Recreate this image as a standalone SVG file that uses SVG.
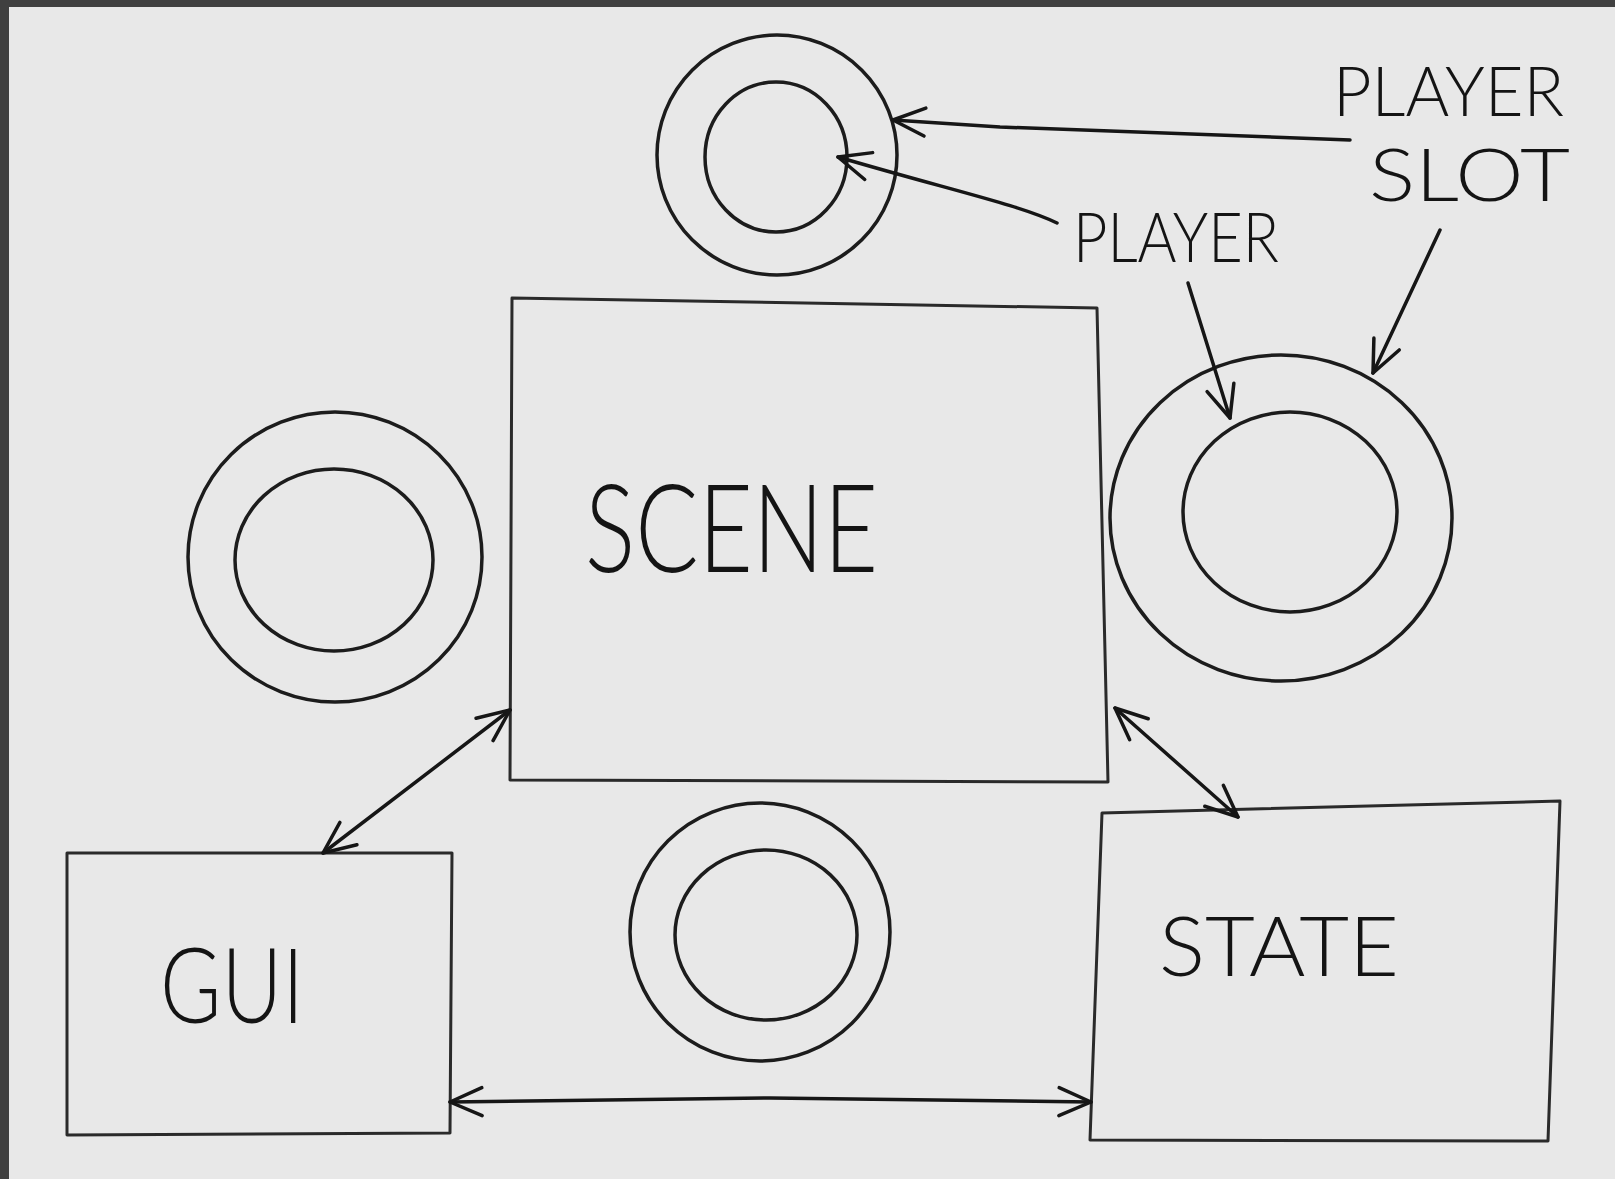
<svg xmlns="http://www.w3.org/2000/svg" width="1615" height="1179" viewBox="0 0 1615 1179">
<style>
.ink{fill:none;stroke:#1c1c1c;stroke-width:3.5;stroke-linecap:round;stroke-linejoin:round}
.box{fill:none;stroke:#2a2a2a;stroke-width:3;stroke-linejoin:round}
.lbl{font-family:"Lato","Liberation Sans",sans-serif;font-weight:300;fill:#141414}
.con{fill:none;stroke:#161616;stroke-width:3.5;stroke-linecap:round;stroke-linejoin:round}
</style>
<defs>
<marker id="ah" viewBox="-36 -18 40 36" markerWidth="40" markerHeight="36" refX="0" refY="0" markerUnits="userSpaceOnUse" orient="auto-start-reverse">
<path d="M-32,-14 L0,0 L-32,14" fill="none" stroke="#161616" stroke-width="3.5" stroke-linecap="round" stroke-linejoin="round"/>
</marker>
</defs>
<rect x="0" y="0" width="1615" height="1179" fill="#404040"/>
<rect x="9" y="7" width="1606" height="1172" fill="#e8e8e8"/>

<g id="ring-top">
<ellipse class="ink" cx="777" cy="155" rx="120" ry="120"/>
<ellipse class="ink" cx="776" cy="157" rx="71" ry="75"/>
</g>
<g id="ring-left">
<ellipse class="ink" cx="335" cy="557" rx="147" ry="145"/>
<ellipse class="ink" cx="334" cy="560" rx="99" ry="91"/>
</g>
<g id="ring-right">
<ellipse class="ink" cx="1281" cy="518" rx="171" ry="163"/>
<ellipse class="ink" cx="1290" cy="512" rx="107" ry="100"/>
</g>
<g id="ring-bottom">
<ellipse class="ink" cx="760" cy="932" rx="130" ry="129"/>
<ellipse class="ink" cx="766" cy="935" rx="91" ry="85"/>
</g>

<g id="scene">
<path class="box" d="M512,298 L1097,308 L1108,782 L510,780 Z"/>
<text class="lbl" x="585" y="572" font-size="123" textLength="293" lengthAdjust="spacingAndGlyphs">SCENE</text>
</g>
<g id="gui">
<path class="box" d="M67,853 L452,853 L450,1133 L67,1135 Z"/>
<text class="lbl" x="160" y="1023" font-size="105" textLength="144" lengthAdjust="spacingAndGlyphs">GUI</text>
</g>
<g id="state">
<path class="box" d="M1102,813 L1560,801 L1548,1141 L1090,1140 Z"/>
<text class="lbl" x="1159" y="976" font-size="82" textLength="240" lengthAdjust="spacingAndGlyphs">STATE</text>
</g>
<g id="label-player-slot">
<text class="lbl" x="1333" y="116" font-size="68" textLength="231" lengthAdjust="spacingAndGlyphs">PLAYER</text>
<text class="lbl" x="1369" y="201" font-size="72" textLength="201" lengthAdjust="spacingAndGlyphs">SLOT</text>
</g>
<g id="label-player">
<text class="lbl" x="1073" y="262" font-size="68" textLength="206" lengthAdjust="spacingAndGlyphs">PLAYER</text>
</g>

<g id="connectors">
<path class="con" d="M1350,140 L1000,127 L893,120" marker-end="url(#ah)"/>
<path class="con" d="M1057,223 C1020,205 950,190 838,157" marker-end="url(#ah)"/>
<path class="con" d="M1188,283 L1230,418" marker-end="url(#ah)"/>
<path class="con" d="M1440,230 L1373,373" marker-end="url(#ah)"/>
<path class="con" d="M323,853 L510,710" marker-start="url(#ah)" marker-end="url(#ah)"/>
<path class="con" d="M1115,708 L1238,817" marker-start="url(#ah)" marker-end="url(#ah)"/>
<path class="con" d="M450,1102 L770,1098 L1091,1102" marker-start="url(#ah)" marker-end="url(#ah)"/>
</g>
</svg>
